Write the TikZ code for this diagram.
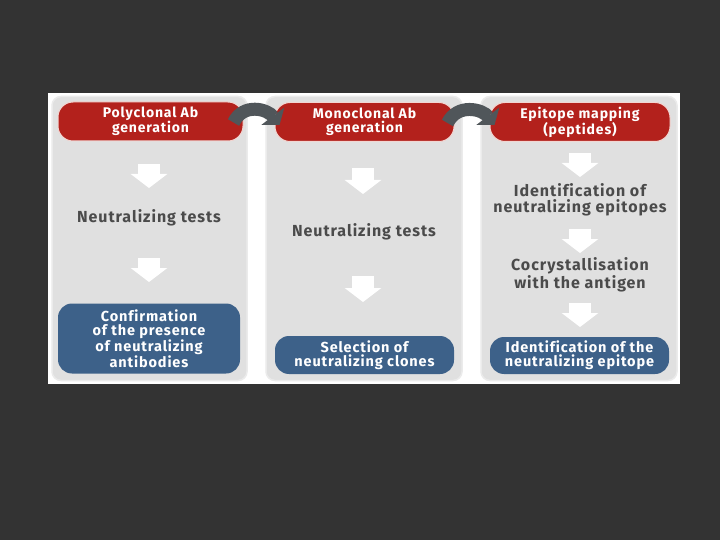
\documentclass[tikz,border=0pt]{standalone}
\usepackage{fontspec}
\setmainfont{Fira Sans}[LetterSpace=6,Ligatures=NoCommon]
\usetikzlibrary{arrows.meta,calc}
\definecolor{slide}{HTML}{333333}
\definecolor{colgrey}{HTML}{E0E0E0}
\definecolor{colrim}{HTML}{EBEBEB}
\definecolor{headred}{HTML}{B3211C}
\definecolor{headrim}{HTML}{F2D6D2}
\definecolor{endblue}{HTML}{3D6189}
\definecolor{textgrey}{HTML}{4B4B4B}
\definecolor{swoopgrey}{HTML}{50565A}
\newlength{\shaftwidth}
\setlength{\shaftwidth}{22pt}
\newcommand\stepdown[2]
{
    \draw[downstep] (#1) -- (#2);
}

\begin{document}
\begin{tikzpicture}[x=1pt,y=-1pt]
  \tikzstyle{colbox}=[
       draw=colrim, line width=1.5pt, fill=colgrey,
       rounded corners=9pt, minimum height=284pt, inner sep=0pt]
  \tikzstyle{headbox}=[
       draw=headrim, line width=1pt, fill=headred,
       rounded corners=15pt, minimum height=39pt, inner sep=0pt,
       text=white, align=center,
       font=\fontsize{14}{14}\selectfont\bfseries]
  \tikzstyle{endbox}=[
       fill=endblue, rounded corners=14pt, inner sep=0pt,
       text=white, align=center,
       font=\fontsize{14.5}{14}\selectfont\bfseries]
  \tikzstyle{steptext}=[
       text=textgrey, align=center,
       font=\fontsize{16}{16}\selectfont\bfseries]
  \tikzstyle{downstep}=[white, line width=\shaftwidth,
       -{Triangle[width=36pt,length=14pt]}]
  \tikzstyle{swoop}=[swoopgrey, line width=13pt,
       -{Triangle[width=28pt,length=11pt]}]

  \fill[slide] (0,0) rectangle (720,540);
  \fill[white] (48,93) rectangle (680,384);

  % the three columns
  \node[colbox, minimum width=195pt] (colA) at (149.5,238.5) {};
  \node[colbox, minimum width=196pt] (colB) at (364,238.5) {};
  \node[colbox, minimum width=196pt] (colC) at (579,238.5) {};

  \node[headbox, minimum width=185pt] (poly) at (150.5,121.5)
       {Polyclonal Ab\\generation};
  \node[headbox, minimum width=179pt] (mono) at (364.5,122)
       {Monoclonal Ab\\generation};
  \node[headbox, minimum width=180pt] (epi) at (580,122)
       {Epitope mapping\\(peptides)};

  \node[steptext] (neutA) at (149,218) {Neutralizing tests};
  \node[steptext] (neutB) at (364,232) {Neutralizing tests};
  \node[steptext] (idepi) at (580,200) {Identification of\\neutralizing epitopes};
  \node[steptext] (cocry) at (580,275) {Cocrystallisation\\with the antigen};

  \node[endbox, minimum width=182pt, minimum height=70pt] (confirm) at (149,338.5)
       {Confirmation\\of the presence\\of neutralizing\\antibodies};
  \node[endbox, minimum width=179pt, minimum height=38pt] (select) at (364.5,355)
       {Selection of\\neutralizing clones};
  \node[endbox, minimum width=179pt, minimum height=37pt] (ident) at (579.5,355.5)
       {Identification of the\\neutralizing epitope};

  % white steps
  \coordinate (a1) at (149,164); \coordinate (a2) at (149,188);
  \coordinate (a3) at (149,258); \coordinate (a4) at (149,282);
  \coordinate (b1) at (363,168); \coordinate (b2) at (363,194);
  \coordinate (b3) at (363,276); \coordinate (b4) at (363,302);
  \coordinate (c1) at (580,153); \coordinate (c2) at (580,177);
  \coordinate (c3) at (580,229); \coordinate (c4) at (580,253);
  \coordinate (c5) at (580,303); \coordinate (c6) at (580,327);
  \stepdown{a1}{a2}
  \stepdown{a3}{a4}
  \stepdown{b1}{b2}
  \stepdown{b3}{b4}
  \stepdown{c1}{c2}
  \stepdown{c3}{c4}
  \stepdown{c5}{c6}

  % grey swoops between the columns
  \draw[swoop] ($(poly.east)+(-10,1)$) .. controls +(10,-20) and +(-12,-16) .. ($(mono.west)+(5,3)$);
  \draw[swoop] ($(mono.east)+(-7,1)$) .. controls +(10,-20) and +(-12,-16) .. ($(epi.west)+(5,3)$);
\end{tikzpicture}
\end{document}
